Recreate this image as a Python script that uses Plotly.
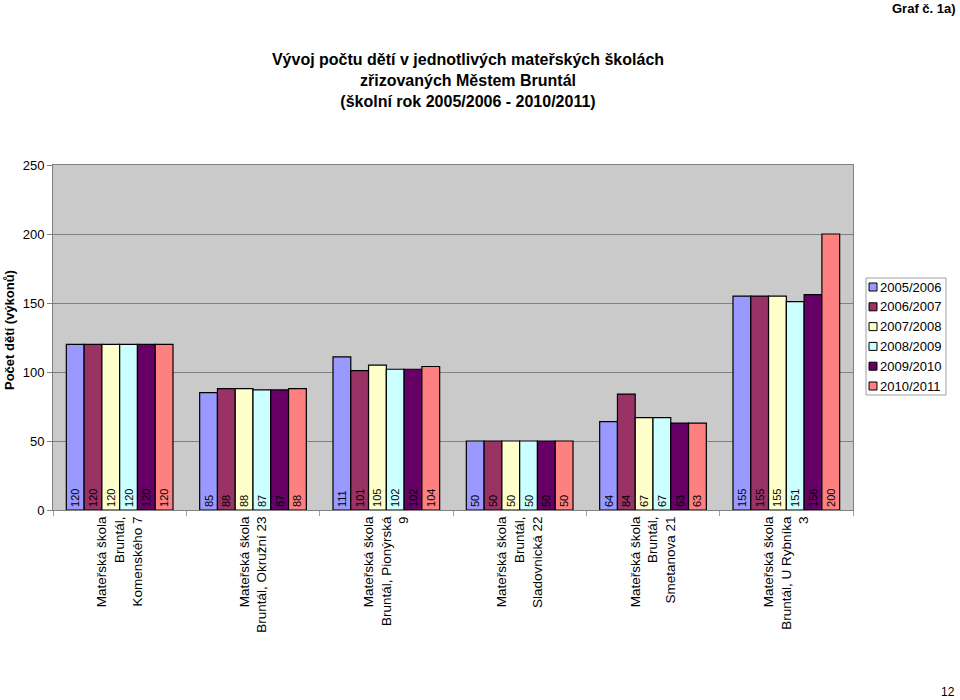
import plotly.graph_objects as go

categories = [
    "Mateřská škola<br>Bruntál,<br>Komenského 7",
    "Mateřská škola<br>Bruntál, Okružní 23",
    "Mateřská škola<br>Bruntál, Pionýrská<br>9",
    "Mateřská škola<br>Bruntál,<br>Sladovnická 22",
    "Mateřská škola<br>Bruntál,<br>Smetanova 21",
    "Mateřská škola<br>Bruntál, U Rybníka<br>3",
]
years = ["2005/2006", "2006/2007", "2007/2008", "2008/2009", "2009/2010", "2010/2011"]
v2005 = [120, 85, 111, 50, 64, 155]
v2006 = [120, 88, 101, 50, 84, 155]
v2007 = [120, 88, 105, 50, 67, 155]
v2008 = [120, 87, 102, 50, 67, 151]
v2009 = [120, 87, 102, 50, 63, 156]
v2010 = [120, 88, 104, 50, 63, 200]
series = [v2005, v2006, v2007, v2008, v2009, v2010]
colors = ["#9999FF", "#993366", "#FFFFCC", "#CCFFFF", "#660066", "#FF8080"]

FONT = "Liberation Sans, Arial, sans-serif"
L, R, T, B = 53, 107, 165, 190
PW, PH = 960 - L - R, 700 - T - B


def px(xp):
    return (xp - L) / PW


def py(yp):
    return (T + PH - yp) / PH


fig = go.Figure()
for name, vals, col in zip(years, series, colors):
    fig.add_trace(go.Bar(
        x=categories, y=vals, name=name,
        marker=dict(color=col, line=dict(color="black", width=1.2)),
        text=[str(v) for v in vals], textposition="inside",
        insidetextanchor="start", textangle=-90,
        textfont=dict(family=FONT, size=11, color="black"),
        constraintext="none",
    ))

fig.update_layout(
    width=960, height=700,
    barmode="group", bargap=0.2, bargroupgap=0,
    paper_bgcolor="white", plot_bgcolor="#CACACA",
    margin=dict(l=L, r=R, t=T, b=B, autoexpand=False),
    font=dict(family=FONT, size=12, color="black"),
    title=dict(
        text="<b>Vývoj počtu dětí v jednotlivých mateřských školách<br>zřizovaných Městem Bruntál<br>(školní rok 2005/2006 - 2010/2011)</b>",
        x=468/960, xanchor="center", y=1-65/700, yanchor="top",
        font=dict(family=FONT, size=16, color="black"),
    ),
    showlegend=False,
)
fig.update_xaxes(
    tickangle=-90, showline=True, linecolor="#808080", linewidth=1, mirror=True,
    tickfont=dict(family=FONT, size=13.5, color="black"),
    ticks="outside", tickson="boundaries", ticklen=5, tickcolor="#A0A0A0",
    showgrid=False, automargin=False,
)
fig.update_yaxes(
    range=[0, 250], dtick=50, showgrid=True, gridcolor="#808080", gridwidth=1,
    showline=True, linecolor="#808080", linewidth=1, mirror=True,
    ticks="outside", ticklen=5, tickcolor="#808080",
    tickfont=dict(family=FONT, size=13, color="black"),
    zeroline=False, automargin=False,
)

# custom legend (small square swatches like the reference)
fig.add_shape(type="rect", xref="paper", yref="paper",
              x0=px(866), x1=px(946), y0=py(278), y1=py(395),
              fillcolor="white", line=dict(color="#A0A0A0", width=1))
for i, (name, col) in enumerate(zip(years, colors)):
    yc = 287 + 19.8 * i
    fig.add_shape(type="rect", xref="paper", yref="paper",
                  x0=px(869), x1=px(877), y0=py(yc - 4), y1=py(yc + 4),
                  fillcolor=col, line=dict(color="black", width=1))
    fig.add_annotation(text=name, xref="paper", yref="paper",
                       x=px(878), y=py(yc), xanchor="left", yanchor="middle",
                       showarrow=False, font=dict(family=FONT, size=13, color="black"))

fig.add_annotation(text="<b>Počet dětí (výkonů)</b>", xref="paper", yref="paper",
                   x=px(9), y=py(330), xanchor="center", yanchor="middle",
                   textangle=-90, showarrow=False,
                   font=dict(family=FONT, size=13, color="black"))
fig.add_annotation(text="<b>Graf č. 1a)</b>", xref="paper", yref="paper",
                   x=px(958), y=py(8), xanchor="right", yanchor="middle",
                   showarrow=False, font=dict(family=FONT, size=13, color="black"))
fig.add_annotation(text="12", xref="paper", yref="paper",
                   x=px(957), y=py(692), xanchor="right", yanchor="middle",
                   showarrow=False, font=dict(family=FONT, size=12, color="black"))
fig.write_html("out.html")
